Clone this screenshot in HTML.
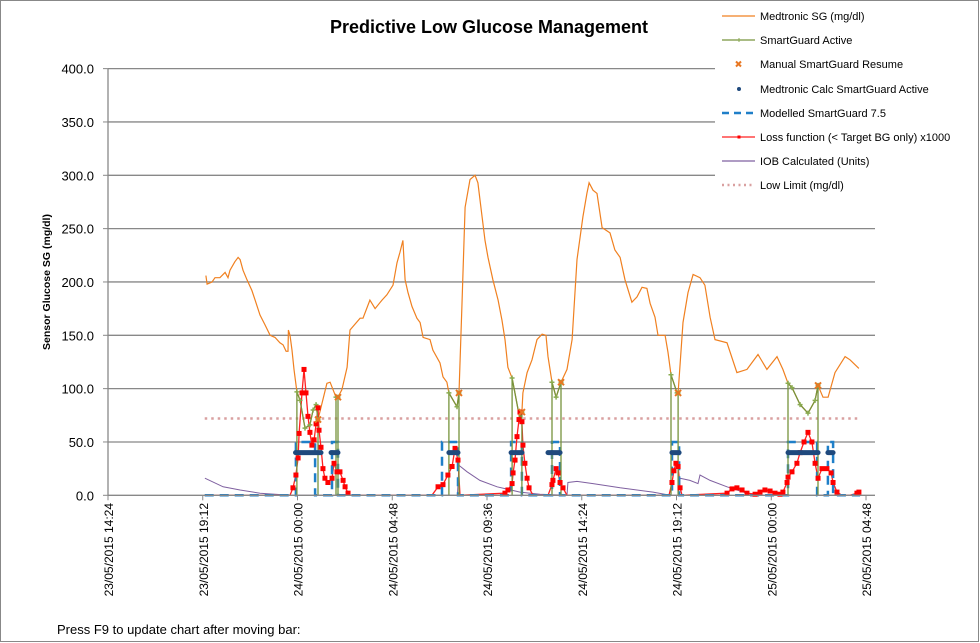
<!DOCTYPE html>
<html><head><meta charset="utf-8">
<style>
body{margin:0;background:#fff;}
svg{display:block;font-family:"Liberation Sans",sans-serif;}
</style></head>
<body>
<svg id="chart" width="980" height="643" viewBox="0 0 980 643">
<rect x="0.5" y="0.5" width="978" height="641" fill="#fff" stroke="#888"/>
<text x="489" y="33" text-anchor="middle" font-size="18" font-weight="bold">Predictive Low Glucose Management</text>
<text transform="translate(50,282) rotate(-90)" text-anchor="middle" font-size="10.5" font-weight="bold">Sensor Glucose SG (mg/dl)</text>
<g id="grid"></g><g id="series"></g><g id="axes"></g>
<rect x="715" y="1" width="262" height="198" fill="#fff"/>
<g id="legend"></g>
<text x="57" y="634" font-size="13">Press F9 to update chart after moving bar:</text>
</svg>
<script>
const yTicks=[0,50,100,150,200,250,300,350,400];
const xTickHours=[0,4.8,9.6,14.4,19.2,24,28.8,33.6,38.4];
const xTickLabels=["23/05/2015 14:24","23/05/2015 19:12","24/05/2015 00:00","24/05/2015 04:48","24/05/2015 09:36","24/05/2015 14:24","24/05/2015 19:12","25/05/2015 00:00","25/05/2015 04:48"];
const sgHours=[4.96,5.02,5.27,5.42,5.67,5.93,6.08,6.18,6.43,6.59,6.69,6.84,7.04,7.29,7.45,7.70,7.95,8.21,8.46,8.71,8.87,9.02,9.12,9.14,9.22,9.32,9.42,9.57,9.73,9.98,10.23,10.39,10.54,10.64,11.09,11.25,11.55,11.65,11.85,12.11,12.26,12.77,12.92,13.27,13.53,13.88,14.13,14.44,14.64,14.79,14.94,15.05,15.20,15.40,15.65,15.81,15.96,16.31,16.46,16.82,16.97,17.17,17.27,17.68,17.78,17.93,18.09,18.34,18.59,18.74,18.95,19.10,19.25,19.50,19.76,19.96,20.11,20.26,20.47,20.87,20.97,21.02,21.23,21.48,21.73,21.99,22.19,22.29,22.49,22.70,22.95,23.25,23.51,23.76,24.06,24.26,24.37,24.57,24.77,25.03,25.43,25.68,25.94,26.19,26.54,26.80,27.05,27.30,27.46,27.71,27.86,28.22,28.37,28.52,28.83,28.88,29.13,29.38,29.64,29.99,30.24,30.50,30.75,31.36,31.86,32.37,32.93,33.38,33.89,34.19,34.45,34.65,35.06,35.46,35.82,35.97,36.22,36.48,36.83,37.34,37.59,38.04];
const sgValues=[206,198,200,204,204,209,204,211,219,223,221,211,202,192,183,169,160,150,148,143,141,135,135,155,150,136,118,97,89,63,66,80,85,71,105,106,92,92,99,120,155,166,166,183,175,183,188,197,218,228,239,202,190,177,166,162,148,146,136,124,111,106,96,83,96,177,270,296,300,293,261,239,223,202,183,164,146,120,110,71,78,96,115,127,146,151,150,130,106,92,106,118,146,221,261,283,293,286,283,251,246,230,223,202,181,186,195,194,180,167,150,150,134,113,96,96,162,190,207,204,197,167,146,143,115,118,132,118,130,118,105,101,85,77,89,103,92,92,115,130,127,119];
const activeStart=[9.57,11.55,17.27,20.47,22.49,28.52,34.45];
const activeEnd=[10.64,11.65,17.78,20.97,22.95,28.88,35.97];
const resumeValues=[71,92,96,78,106,96,103];
const calcStart=[9.5,11.3,17.27,20.42,22.29,28.57,34.45,36.47];
const calcEnd=[10.79,11.65,17.73,20.97,22.90,28.93,35.97,36.73];
const calcValue=40;
const modelHours=[4.9,9.52,9.52,10.49,10.49,11.35,11.35,11.65,11.65,16.92,16.92,17.73,17.73,20.42,20.42,20.97,20.97,22.49,22.49,22.90,22.90,28.57,28.57,28.93,28.93,34.45,34.45,35.92,35.92,36.47,36.47,36.73,36.73,38.1];
const modelValues=[0,0,50,50,0,0,50,50,0,0,50,50,0,0,50,50,0,0,50,50,0,0,50,50,0,0,50,50,0,0,50,50,0,0];
const lossHours=[4.9,9.22,9.37,9.52,9.63,9.68,9.83,9.93,10.03,10.13,10.23,10.33,10.44,10.54,10.64,10.69,10.79,10.89,10.99,11.14,11.35,11.45,11.60,11.75,11.91,12.01,12.16,12.26,16.41,16.72,16.97,17.22,17.43,17.58,17.73,17.83,20.11,20.26,20.47,20.52,20.62,20.72,20.82,20.87,20.97,21.02,21.12,21.23,21.33,21.53,22.29,22.49,22.54,22.70,22.80,22.90,23.05,23.25,28.42,28.57,28.67,28.77,28.88,28.98,29.08,31.36,31.61,31.86,32.12,32.37,32.78,33.03,33.28,33.54,33.79,34.04,34.19,34.40,34.45,34.65,34.90,35.06,35.26,35.46,35.66,35.82,35.97,36.17,36.42,36.63,36.73,36.93,37.18,37.59,37.94,38.04];
const lossValues=[0,0,7,19,35,58,96,118,96,74,59,47,52,67,82,61,45,25,16,12,16,30,22,22,14,8,2,0,0,8,10,19,27,44,33,0,2,5,11,21,33,55,71,78,69,47,30,16,7,0,0,10,14,25,21,12,7,0,0,12,23,30,27,7,0,2,6,7,5,2,1,3,5,4,2,1,3,12,17,22,30,40,50,59,50,30,16,25,25,21,12,3,0,0,2,3];
const iobHours=[4.91,5.83,6.69,7.70,9.22,17.70,17.78,18.19,18.84,19.71,20.87,21.88,23.25,23.30,23.76,24.57,25.94,27.61,28.47,28.88,28.98,29.48,29.89,29.99,30.50,31.36,32.37,33.03,38.1];
const iobValues=[16,8,5,2,0,0,28,22,14,8,3,1,0,12,13,11,7,3,0,0,16,14,11,19,14,8,2,0,0];
const lowLimitHours=[4.9,38.0];
const lowLimitValue=72;

const NS="http://www.w3.org/2000/svg";
const X=h=>108+h*19.74;
const Y=v=>495.3-v*1.0667;
function mk(tag,attrs,parent){const e=document.createElementNS(NS,tag);for(const k in attrs)e.setAttribute(k,attrs[k]);parent.appendChild(e);return e;}
const grid=document.getElementById('grid'),axes=document.getElementById('axes'),ser=document.getElementById('series'),leg=document.getElementById('legend');
yTicks.forEach((t,i)=>{
 if(t>0){const l=mk('line',{x1:108,x2:875,y1:Y(t),y2:Y(t),stroke:'#888','stroke-width':1.3},grid);
 
 }
 const tx=mk('text',{x:94,y:Y(t)+5,'text-anchor':'end','font-size':13},axes);tx.textContent=t.toFixed(1);
 
 
 const tk=mk('line',{x1:103,x2:108,y1:Y(t),y2:Y(t),stroke:'#888'},axes);
 
 
});
const ya=mk('line',{x1:108,x2:108,y1:Y(0),y2:Y(400),stroke:'#888','stroke-width':1.3},axes);


const xa=mk('line',{x1:108,x2:875,y1:Y(0),y2:Y(0),stroke:'#888','stroke-width':1.3},axes);


xTickHours.forEach((h,i)=>{
 const tk=mk('line',{x1:X(h),x2:X(h),y1:Y(0),y2:Y(0)+5,stroke:'#888'},axes);
 
 
 const tx=mk('text',{transform:`translate(${X(h)+5},503) rotate(-90)`,'text-anchor':'end','font-size':12},axes);
 tx.textContent=xTickLabels[i];
 
 
});
function pts(hs,vs){return hs.map((h,i)=>X(h).toFixed(1)+','+Y(vs[i]).toFixed(1)).join(' ');}
const ll=mk('line',{x1:X(lowLimitHours[0]),x2:X(lowLimitHours[1]),y1:Y(lowLimitValue),y2:Y(lowLimitValue),stroke:'#d9a0a0','stroke-width':2.5,'stroke-dasharray':'2.5,4'},ser);


const iob=mk('polyline',{points:pts(iobHours,iobValues),fill:'none',stroke:'#7f60a0','stroke-width':1},ser);


const sg=mk('polyline',{points:pts(sgHours,sgValues),fill:'none',stroke:'#f08020','stroke-width':1.2},ser);


const lo=mk('polyline',{points:pts(lossHours,lossValues),fill:'none',stroke:'#ff2020','stroke-width':1.3},ser);


const md=mk('polyline',{points:pts(modelHours,modelValues),fill:'none',stroke:'#1f7fc8','stroke-width':2.5,'stroke-dasharray':'9,6'},ser);


activeStart.forEach((s,i)=>{
 const e=activeEnd[i];const hs=[s],vs=[0];
 sgHours.forEach((h,j)=>{if(h>=s-0.001&&h<=e+0.001){hs.push(h);vs.push(sgValues[j]);}});
 hs.push(e);vs.push(0);
 const p=mk('polyline',{points:pts(hs,vs),fill:'none',stroke:'#77933c','stroke-width':1.3},ser);
 
 
 hs.slice(1,-1).forEach((h,k)=>{const m=mk('path',{d:`M${X(h)-2.5},${Y(vs[k+1])}h5M${X(h)},${Y(vs[k+1])-2.5}v5`,stroke:'#8aab50','stroke-width':1.5},ser);
 
 });
});
lossHours.forEach((h,i)=>{if(lossValues[i]>0){const r=mk('rect',{x:X(h)-2.5,y:Y(lossValues[i])-2.5,width:5,height:5,fill:'#ff0000'},ser);
 
 }});
calcStart.forEach((s,i)=>{
 const l=mk('line',{x1:X(s),x2:X(calcEnd[i]),y1:Y(calcValue),y2:Y(calcValue),stroke:'#1f497d','stroke-width':5,'stroke-linecap':'round'},ser);
 
 
});
activeEnd.forEach((h,i)=>{
 const x=X(h),y=Y(resumeValues[i]);
 const c=mk('path',{d:`M${x-3},${y-3}L${x+3},${y+3}M${x+3},${y-3}L${x-3},${y+3}`,stroke:'#e87722','stroke-width':2},ser);
 
 
});
const legNames=["Medtronic SG (mg/dl)","SmartGuard  Active","Manual SmartGuard  Resume","Medtronic Calc SmartGuard  Active","Modelled SmartGuard  7.5","Loss function (< Target BG only) x1000","IOB Calculated  (Units)","Low Limit (mg/dl)"];
const legY=[16,40,64,89,113,137,161,185];
legNames.forEach((n,i)=>{
 const y=legY[i];const g=mk('g',{},leg);
 
 
 if(i==0)mk('line',{x1:722,x2:755,y1:y,y2:y,stroke:'#f08020','stroke-width':1.2},g);
 if(i==1){mk('line',{x1:722,x2:755,y1:y,y2:y,stroke:'#77933c','stroke-width':1.2},g);mk('line',{x1:739,x2:739,y1:y-2,y2:y+2,stroke:'#8aab50'},g);}
 if(i==2)mk('path',{d:`M736,${y-2.5}l5,5m0,-5l-5,5`,stroke:'#e87722','stroke-width':2},g);
 if(i==3)mk('circle',{cx:739,cy:y,r:2,fill:'#1f497d'},g);
 if(i==4)mk('line',{x1:722,x2:755,y1:y,y2:y,stroke:'#1f7fc8','stroke-width':2.5,'stroke-dasharray':'7,5'},g);
 if(i==5){mk('line',{x1:722,x2:755,y1:y,y2:y,stroke:'#ff2020','stroke-width':1.2},g);mk('rect',{x:737.5,y:y-1.5,width:3,height:3,fill:'#f00'},g);}
 if(i==6)mk('line',{x1:722,x2:755,y1:y,y2:y,stroke:'#7f60a0','stroke-width':1.2},g);
 if(i==7)mk('line',{x1:722,x2:755,y1:y,y2:y,stroke:'#d9a0a0','stroke-width':2.5,'stroke-dasharray':'2,3.5'},g);
 const t=mk('text',{x:760,y:y+4,'font-size':11},g);t.textContent=n;
});
</script>
</body></html>
